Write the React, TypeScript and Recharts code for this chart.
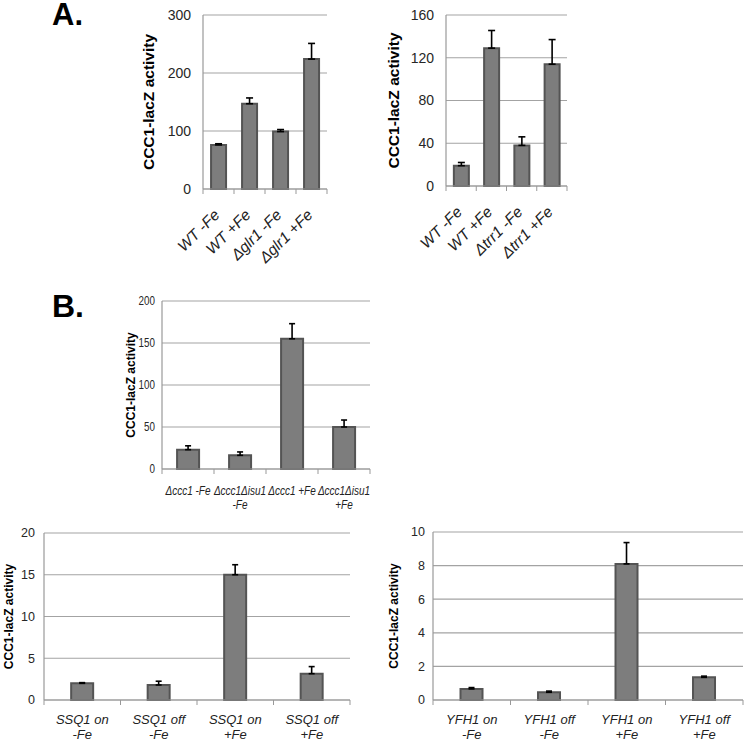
import React from 'react';
import { BarChart, Bar, XAxis, YAxis, CartesianGrid, ErrorBar, Label } from 'recharts';

const FONT = '"Liberation Sans", Arial, Helvetica, sans-serif';

// Panel A (left)
const a1Categories = ['WT -Fe', 'WT +Fe', 'Δglr1 -Fe', 'Δglr1 +Fe'];
const a1Values = [76, 147, 99, 224];
const a1Errors = [2, 10, 3.5, 27];
const a1Ticks = [0, 100, 200, 300];

// Panel A (right)
const a2Categories = ['WT -Fe', 'WT +Fe', 'Δtrr1 -Fe', 'Δtrr1 +Fe'];
const a2Values = [19, 129, 38, 114];
const a2Errors = [3, 16.5, 8, 23];
const a2Ticks = [0, 40, 80, 120, 160];

// Panel B
const bCategories = ['Δccc1 -Fe', 'Δccc1Δisu1\n-Fe', 'Δccc1 +Fe', 'Δccc1Δisu1\n+Fe'];
const bValues = [23, 16.3, 155, 50];
const bErrors = [4.6, 4, 18, 8.3];
const bTicks = [0, 50, 100, 150, 200];

// Panel C (left)
const c1Categories = ['SSQ1 on\n-Fe', 'SSQ1 off\n-Fe', 'SSQ1 on\n+Fe', 'SSQ1 off\n+Fe'];
const c1Values = [2.0, 1.8, 15.0, 3.15];
const c1Errors = [0.08, 0.45, 1.2, 0.85];
const c1Ticks = [0, 5, 10, 15, 20];

// Panel C (right)
const c2Categories = ['YFH1 on\n-Fe', 'YFH1 off\n-Fe', 'YFH1 on\n+Fe', 'YFH1 off\n+Fe'];
const c2Values = [0.66, 0.46, 8.1, 1.35];
const c2Errors = [0.08, 0.07, 1.27, 0.07];
const c2Ticks = [0, 2, 4, 6, 8, 10];

const Y_TITLE = 'CCC1-lacZ activity';
const PANEL_LETTERS = ['A.', 'B.'];

function buildRows(cats: string[], vals: number[], errs: number[]) {
  return cats.map((c, i) => ({ name: c, value: vals[i], err: [0, errs[i]] }));
}

type TickCfg = {
  rotate: boolean;
  fontSize: number;
  squeeze: number;
  dy: number;
  lineGap: number;
  count: number;
};

function CategoryTick(props: any) {
  const { x, y, payload, index, cfg } = props as { x: number; y: number; payload: any; index: number; cfg: TickCfg };
  const half = payload && typeof payload.offset === 'number' ? payload.offset : 0;
  const label: string = String(payload.value);
  const tickLines = [
    <line key="l" x1={x - half} y1={y} x2={x - half} y2={y + 5} stroke="#999" strokeWidth={1} />,
  ];
  if (index === cfg.count - 1) {
    tickLines.push(<line key="r" x1={x + half} y1={y} x2={x + half} y2={y + 5} stroke="#999" strokeWidth={1} />);
  }
  if (cfg.rotate) {
    const tx = x + 2;
    const ty = y + cfg.dy;
    return (
      <g>
        {tickLines}
        <text
          x={tx}
          y={ty}
          transform={`rotate(-45 ${tx} ${ty})`}
          textAnchor="end"
          fontSize={cfg.fontSize}
          fontFamily={FONT}
          fontStyle="italic"
          fill="#222"
        >
          {label}
        </text>
      </g>
    );
  }
  const parts = label.split('\n');
  return (
    <g>
      {tickLines}
      {parts.map((p, i) => (
        <text
          key={i}
          transform={`translate(${x} ${y + cfg.dy + i * cfg.lineGap}) scale(${cfg.squeeze} 1)`}
          textAnchor="middle"
          fontSize={cfg.fontSize}
          fontFamily={FONT}
          fontStyle="italic"
          fill="#222"
        >
          {p}
        </text>
      ))}
    </g>
  );
}

function ValueTick(props: any) {
  const { x, y, payload, fontSize, squeeze } = props;
  return (
    <text
      transform={`translate(${x} ${y}) scale(${squeeze} 1)`}
      textAnchor="end"
      dy="0.355em"
      fontSize={fontSize}
      fontFamily={FONT}
      fill="#262626"
    >
      {payload.value}
    </text>
  );
}

function YTitle(props: any) {
  const { viewBox, dx, fontSize } = props;
  const cx = viewBox.x + dx;
  const cy = viewBox.y + viewBox.height / 2;
  return (
    <text
      x={cx}
      y={cy}
      transform={`rotate(-90 ${cx} ${cy})`}
      textAnchor="middle"
      dominantBaseline="central"
      fontSize={fontSize}
      fontWeight="bold"
      fontFamily={FONT}
      fill="#000"
    >
      {Y_TITLE}
    </text>
  );
}

type PanelProps = {
  left: number;
  top: number;
  width: number;
  height: number;
  margin: { top: number; right: number; bottom: number; left: number };
  yWidth: number;
  xHeight: number;
  rows: any[];
  ticks: number[];
  yFont: number;
  ySqueeze: number;
  yGap: number;
  titleDx: number;
  titleSize: number;
  tickCfg: TickCfg;
  gap: string;
  capWidth: number;
};

function Panel(p: PanelProps) {
  const max = p.ticks[p.ticks.length - 1];
  return (
    <div style={{ position: 'absolute', left: p.left, top: p.top, width: p.width, height: p.height }}>
      <BarChart width={p.width} height={p.height} data={p.rows} margin={p.margin} barCategoryGap={p.gap}>
        <CartesianGrid vertical={false} stroke="#a3a3a3" strokeWidth={1.2} />
        <XAxis
          dataKey="name"
          height={p.xHeight}
          interval={0}
          tickLine={false}
          tickSize={0}
          tickMargin={0}
          axisLine={{ stroke: '#999', strokeWidth: 1.2 }}
          tick={(tp: any) => <CategoryTick {...tp} cfg={p.tickCfg} />}
        />
        <YAxis
          width={p.yWidth}
          domain={[0, max]}
          ticks={p.ticks}
          interval={0}
          tickLine={false}
          tickSize={0}
          tickMargin={p.yGap}
          axisLine={{ stroke: '#999', strokeWidth: 1.2 }}
          tick={(tp: any) => <ValueTick {...tp} fontSize={p.yFont} squeeze={p.ySqueeze} />}
        >
          <Label content={(lp: any) => <YTitle {...lp} dx={p.titleDx} fontSize={p.titleSize} />} />
        </YAxis>
        <Bar dataKey="value" fill="#7d7d7d" stroke="#545454" strokeWidth={2} isAnimationActive={false}>
          <ErrorBar dataKey="err" width={p.capWidth} stroke="#000" strokeWidth={1.6} direction="y" />
        </Bar>
      </BarChart>
    </div>
  );
}

export default function App() {
  return (
    <div style={{ position: 'absolute', left: 0, top: 0, width: 745, height: 742, background: '#fff', overflow: 'hidden' }}>
      <svg width={745} height={742} style={{ position: 'absolute', left: 0, top: 0 }}>
        <text x={52} y={25} fontFamily={FONT} fontWeight="bold" fontSize={31} fill="#000">{PANEL_LETTERS[0]}</text>
        <text x={52} y={317} fontFamily={FONT} fontWeight="bold" fontSize={32} fill="#000">{PANEL_LETTERS[1]}</text>
      </svg>

      <Panel
        left={110}
        top={0}
        width={230}
        height={280}
        margin={{ top: 15, right: 13, bottom: 31, left: 0 }}
        yWidth={93}
        xHeight={60}
        rows={buildRows(a1Categories, a1Values, a1Errors)}
        ticks={a1Ticks}
        yFont={14}
        ySqueeze={1}
        yGap={12}
        titleDx={38}
        titleSize={15.5}
        tickCfg={{ rotate: true, fontSize: 15.5, squeeze: 1, dy: 27, lineGap: 0, count: 4 }}
        gap="26%"
        capWidth={3.5}
      />

      <Panel
        left={370}
        top={0}
        width={210}
        height={280}
        margin={{ top: 15, right: 13, bottom: 34, left: 0 }}
        yWidth={76}
        xHeight={60}
        rows={buildRows(a2Categories, a2Values, a2Errors)}
        ticks={a2Ticks}
        yFont={14}
        ySqueeze={1}
        yGap={12}
        titleDx={23}
        titleSize={15.5}
        tickCfg={{ rotate: true, fontSize: 15.5, squeeze: 1, dy: 27, lineGap: 0, count: 4 }}
        gap="26%"
        capWidth={3.5}
      />

      <Panel
        left={100}
        top={285}
        width={285}
        height={240}
        margin={{ top: 16, right: 15, bottom: 6, left: 0 }}
        yWidth={62}
        xHeight={50}
        rows={buildRows(bCategories, bValues, bErrors)}
        ticks={bTicks}
        yFont={12}
        ySqueeze={0.82}
        yGap={7}
        titleDx={31}
        titleSize={12}
        tickCfg={{ rotate: false, fontSize: 12.5, squeeze: 0.8, dy: 26, lineGap: 14, count: 4 }}
        gap="29%"
        capWidth={3}
      />

      <Panel
        left={0}
        top={520}
        width={365}
        height={222}
        margin={{ top: 13, right: 15, bottom: 0, left: 0 }}
        yWidth={44}
        xHeight={42}
        rows={buildRows(c1Categories, c1Values, c1Errors)}
        ticks={c1Ticks}
        yFont={12.5}
        ySqueeze={1}
        yGap={9}
        titleDx={9}
        titleSize={12}
        tickCfg={{ rotate: false, fontSize: 13, squeeze: 1, dy: 24, lineGap: 14.5, count: 4 }}
        gap="35.5%"
        capWidth={3}
      />

      <Panel
        left={375}
        top={520}
        width={370}
        height={222}
        margin={{ top: 12, right: 2, bottom: 0, left: 0 }}
        yWidth={58}
        xHeight={42}
        rows={buildRows(c2Categories, c2Values, c2Errors)}
        ticks={c2Ticks}
        yFont={12.5}
        ySqueeze={1}
        yGap={8}
        titleDx={19}
        titleSize={12}
        tickCfg={{ rotate: false, fontSize: 13, squeeze: 1, dy: 24, lineGap: 14.5, count: 4 }}
        gap="35.5%"
        capWidth={3}
      />
    </div>
  );
}
